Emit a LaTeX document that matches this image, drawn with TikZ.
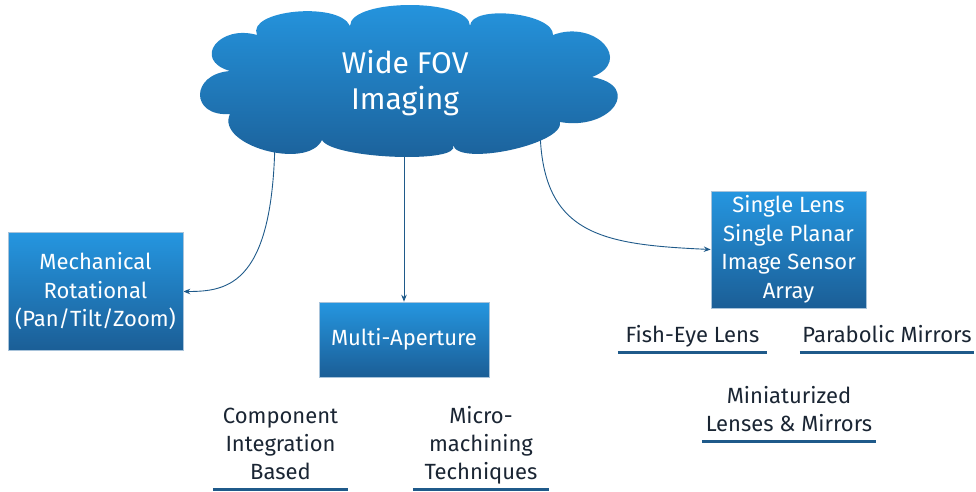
\documentclass[tikz,border=0pt]{standalone}
\usepackage{fontspec}
\setmainfont{Fira Sans}
\usepackage{tikz}
\usetikzlibrary{arrows.meta,backgrounds,calc}
\usepackage{xcolor}
\definecolor{boxtop}{HTML}{2596E0}
\definecolor{boxbot}{HTML}{1B5E96}
\definecolor{edgeblue}{HTML}{1F5A8A}
\definecolor{labelink}{HTML}{1A2533}
\definecolor{boxrim}{HTML}{A8C3DA}

\begin{document}
\begin{tikzpicture}[x=1pt,y=-1pt,>={Stealth[length=7pt,width=5.5pt]}]
\tikzset{
    topic/.style={%
        draw=boxrim, line width=0.6pt,
        rectangle,
        top color=boxtop, bottom color=boxbot,
        text=white, align=center,
        font=\fontsize{22}{28.5}\selectfont,
        inner sep=0pt
        },
    puff/.style={%
        top color=boxtop, bottom color=boxbot,
        draw=none
        },
    idea/.style={%
        text=white, align=center,
        font=\fontsize{30}{36}\selectfont
        },
    leaf/.style={%
        text=labelink, align=center,
        font=\fontsize{22}{28}\selectfont,
        text depth=5pt, inner xsep=0pt, inner ysep=4pt
        },
    bar/.style={draw=edgeblue, line width=3pt},
    link/.style={->, draw=edgeblue, line width=0.9pt},
}
\useasboundingbox (0,0) rectangle (976,491);
%%%CLOUD
\path[puff] (230,71)
    .. controls (192,60) and (219,24) .. (257,35)
    .. controls (246,10) and (339,1) .. (350,26)
    .. controls (350,-2) and (470,-2) .. (470,26)
    .. controls (471,4) and (554,13) .. (553,35)
    .. controls (595,19) and (634,61) .. (592,77)
    .. controls (643,86) and (611,131) .. (560,122)
    .. controls (565,144) and (458,167) .. (453,145)
    .. controls (463,164) and (332,159) .. (322,140)
    .. controls (307,171) and (215,145) .. (230,114)
    .. controls (190,117) and (190,74) .. cycle;
\node[idea] (wide) at (405,83) {Wide FOV\\Imaging};
%%%APPROACHES
\node[topic, minimum width=175pt, minimum height=118pt] (mech) at (95.5,291.5) {Mechanical\\Rotational\\(Pan/Tilt/Zoom)};
\node[topic, minimum width=170pt, minimum height=75pt] (multi) at (404,339.5) {Multi-Aperture};
\node[topic, minimum width=155pt, minimum height=117pt] (single) at (788.5,249.5) {Single Lens\\Single Planar\\Image Sensor\\Array};
%%%METHODS
\node[leaf, anchor=south, minimum width=135pt] (comp) at (280.5,489) {Component\\Integration\\Based};
\node[leaf, anchor=south, minimum width=136pt] (micro) at (481,489) {Micro-\\machining\\Techniques};
\node[leaf, anchor=south, minimum width=149pt] (fish) at (692.5,352) {Fish-Eye Lens};
\node[leaf, anchor=south, minimum width=174pt] (para) at (887,352) {Parabolic Mirrors};
\node[leaf, anchor=south, minimum width=174pt] (mini) at (789,441) {Miniaturized\\Lenses \& Mirrors};
\foreach \n in {comp,micro,fish,para,mini}
    \draw[bar] (\n.south west) -- (\n.south east);
%%%LINKS
\begin{pgfonlayer}{background}
\draw[link] ($(wide.center)+(-130,47)$) .. controls +(0,155) and +(45,0) .. (mech.east);
\draw[link] (multi.north |- wide.center) -- (multi.north);
\draw[link] ($(wide.center)+(135,42)$) .. controls +(0,110) and +(-110,-5) .. (single.west);
\end{pgfonlayer}
\end{tikzpicture}
\end{document}
